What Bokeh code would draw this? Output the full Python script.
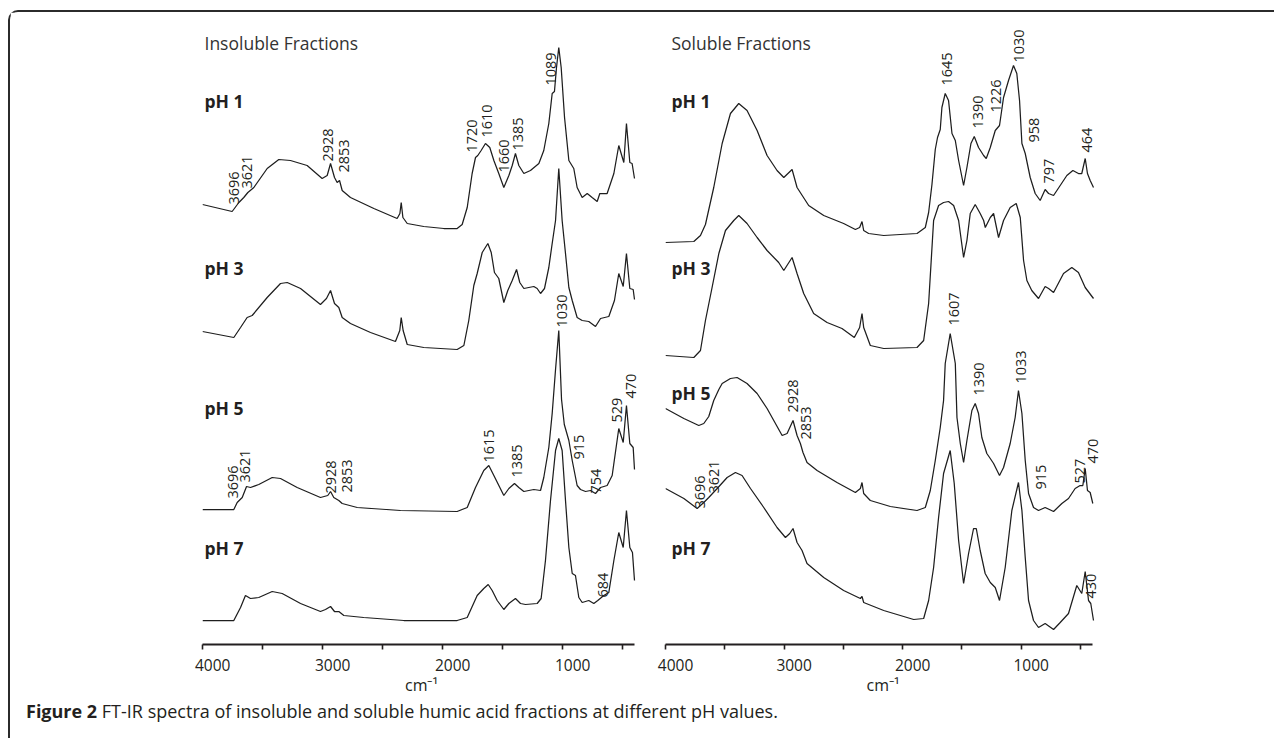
import numpy as np
from bokeh.plotting import figure
from bokeh.models import Range1d, LinearAxis, FixedTicker, Div
from bokeh.layouts import row, column
from bokeh.core.properties import value
from bokeh.embed import file_html
from bokeh.resources import INLINE

FONT = "Open Sans"
INK = "#231f20"

# ---------------- data: Insoluble fractions (wavenumber cm-1, stacked absorbance a.u.) -------------
ins_ph1_wn = [4000, 3753, 3697, 3656, 3622, 3572, 3461, 3364, 3267, 3128, 3003, 2961, 2933, 2900, 2878, 2858, 2836, 2767, 2572, 2378, 2355, 2344, 2330, 2294, 2156, 1989, 1878, 1836, 1794, 1753, 1725, 1706, 1678, 1642, 1606, 1572, 1531, 1489, 1447, 1419, 1392, 1364, 1322, 1267, 1197, 1156, 1114, 1086, 1067, 1050, 1031, 1011, 983, 947, 906, 878, 836, 794, 753, 711, 689, 628, 572, 531, 489, 467, 439, 420, 400]
ins_ph1_ab = [4.40, 4.33, 4.42, 4.47, 4.52, 4.57, 4.76, 4.85, 4.84, 4.79, 4.66, 4.69, 4.81, 4.67, 4.62, 4.64, 4.54, 4.47, 4.36, 4.26, 4.31, 4.42, 4.27, 4.21, 4.18, 4.16, 4.16, 4.20, 4.37, 4.71, 4.87, 4.89, 4.94, 5.01, 4.97, 4.84, 4.71, 4.57, 4.69, 4.79, 4.91, 4.79, 4.71, 4.74, 4.81, 4.94, 5.21, 5.51, 5.53, 5.77, 5.97, 5.77, 5.27, 4.84, 4.76, 4.57, 4.47, 4.51, 4.47, 4.43, 4.51, 4.51, 4.71, 4.99, 4.82, 5.21, 4.82, 4.81, 4.66]

ins_ph3_wn = [4000, 3739, 3683, 3628, 3586, 3461, 3350, 3294, 3183, 3017, 2967, 2933, 2900, 2864, 2836, 2767, 2600, 2392, 2356, 2344, 2328, 2294, 2156, 1878, 1822, 1781, 1739, 1711, 1669, 1622, 1594, 1567, 1531, 1489, 1456, 1419, 1383, 1356, 1322, 1281, 1239, 1211, 1183, 1150, 1114, 1086, 1058, 1031, 1003, 975, 947, 919, 878, 836, 781, 725, 683, 614, 567, 531, 494, 467, 439, 411, 400]
ins_ph3_ab = [3.13, 3.07, 3.17, 3.27, 3.29, 3.47, 3.61, 3.62, 3.56, 3.40, 3.46, 3.54, 3.41, 3.37, 3.27, 3.21, 3.12, 3.03, 3.14, 3.27, 3.14, 3.00, 2.97, 2.95, 2.99, 3.24, 3.59, 3.71, 3.92, 4.01, 3.92, 3.72, 3.66, 3.42, 3.54, 3.64, 3.75, 3.62, 3.56, 3.57, 3.58, 3.56, 3.51, 3.56, 3.77, 4.01, 4.24, 4.76, 4.24, 3.91, 3.57, 3.44, 3.27, 3.24, 3.23, 3.18, 3.26, 3.28, 3.44, 3.71, 3.58, 3.91, 3.56, 3.55, 3.45]

ins_ph5_wn = [4000, 3739, 3711, 3669, 3633, 3600, 3531, 3419, 3350, 3211, 3017, 2956, 2933, 2906, 2864, 2836, 2711, 2350, 1878, 1794, 1725, 1656, 1614, 1572, 1489, 1447, 1400, 1364, 1322, 1239, 1183, 1156, 1114, 1086, 1058, 1031, 1008, 985, 947, 919, 878, 850, 808, 767, 725, 683, 628, 586, 531, 494, 467, 439, 411, 400]
ins_ph5_ab = [1.35, 1.35, 1.42, 1.47, 1.58, 1.57, 1.60, 1.67, 1.66, 1.57, 1.47, 1.49, 1.53, 1.47, 1.44, 1.41, 1.37, 1.34, 1.33, 1.37, 1.57, 1.74, 1.79, 1.69, 1.49, 1.56, 1.61, 1.57, 1.53, 1.55, 1.54, 1.67, 1.97, 2.31, 2.75, 3.14, 2.45, 2.20, 2.04, 1.84, 1.59, 1.55, 1.53, 1.54, 1.51, 1.57, 1.59, 1.69, 2.16, 2.02, 2.39, 2.01, 1.97, 1.75]

ins_ph7_wn = [4000, 3739, 3683, 3642, 3600, 3531, 3419, 3336, 3183, 3017, 2975, 2933, 2900, 2864, 2822, 2656, 2322, 1878, 1794, 1711, 1656, 1619, 1586, 1544, 1489, 1447, 1392, 1350, 1308, 1211, 1178, 1142, 1100, 1058, 1031, 1003, 975, 947, 919, 892, 864, 836, 781, 739, 706, 656, 614, 572, 531, 494, 467, 439, 417, 400]
ins_ph7_ab = [0.24, 0.24, 0.37, 0.49, 0.46, 0.47, 0.53, 0.51, 0.41, 0.33, 0.35, 0.38, 0.33, 0.33, 0.29, 0.27, 0.24, 0.24, 0.27, 0.49, 0.56, 0.60, 0.54, 0.44, 0.35, 0.41, 0.46, 0.41, 0.40, 0.41, 0.46, 0.84, 1.44, 1.94, 2.06, 1.94, 1.44, 0.97, 0.71, 0.69, 0.47, 0.42, 0.44, 0.41, 0.44, 0.49, 0.52, 0.84, 1.12, 0.97, 1.34, 0.97, 0.92, 0.64]

# ---------------- data: Soluble fractions -------------
sol_ph1_wn = [4000, 3761, 3705, 3663, 3593, 3522, 3452, 3382, 3312, 3227, 3143, 3059, 3002, 2932, 2890, 2792, 2665, 2497, 2398, 2362, 2342, 2328, 2286, 2159, 1878, 1808, 1780, 1752, 1724, 1705, 1682, 1668, 1640, 1612, 1583, 1555, 1527, 1485, 1457, 1423, 1395, 1359, 1316, 1294, 1260, 1218, 1182, 1148, 1106, 1064, 1036, 1013, 993, 965, 923, 881, 839, 797, 768, 726, 670, 614, 563, 516, 488, 459, 440, 417, 389]
sol_ph1_ab = [4.02, 4.03, 4.09, 4.20, 4.57, 5.01, 5.31, 5.41, 5.34, 5.14, 4.89, 4.74, 4.67, 4.75, 4.57, 4.39, 4.29, 4.21, 4.15, 4.17, 4.23, 4.14, 4.11, 4.09, 4.11, 4.17, 4.32, 4.60, 4.95, 5.07, 5.15, 5.37, 5.51, 5.44, 5.11, 5.04, 4.84, 4.59, 4.77, 5.01, 5.08, 4.97, 4.89, 4.86, 4.97, 5.14, 5.19, 5.47, 5.64, 5.79, 5.71, 5.44, 5.01, 4.91, 4.67, 4.51, 4.44, 4.55, 4.51, 4.49, 4.59, 4.69, 4.74, 4.71, 4.71, 4.86, 4.71, 4.64, 4.57]

sol_ph3_wn = [4000, 3761, 3705, 3663, 3607, 3550, 3494, 3424, 3382, 3312, 3227, 3143, 3045, 3002, 2932, 2890, 2834, 2750, 2637, 2511, 2407, 2362, 2342, 2328, 2272, 2159, 1878, 1822, 1780, 1738, 1696, 1654, 1612, 1569, 1527, 1485, 1457, 1429, 1387, 1345, 1316, 1302, 1260, 1232, 1190, 1148, 1092, 1041, 1007, 979, 951, 910, 853, 797, 768, 726, 642, 572, 516, 459, 389]
sol_ph3_ab = [2.89, 2.87, 2.94, 3.24, 3.57, 3.91, 4.14, 4.24, 4.29, 4.21, 4.07, 3.94, 3.82, 3.74, 3.87, 3.71, 3.51, 3.31, 3.22, 3.16, 3.07, 3.17, 3.31, 3.17, 2.99, 2.96, 2.97, 3.04, 3.41, 4.24, 4.39, 4.42, 4.43, 4.39, 4.24, 3.87, 4.04, 4.31, 4.40, 4.31, 4.24, 4.17, 4.27, 4.31, 4.07, 4.24, 4.37, 4.41, 4.27, 3.84, 3.64, 3.54, 3.46, 3.58, 3.56, 3.52, 3.71, 3.77, 3.72, 3.57, 3.46]

sol_ph5_wn = [4000, 3845, 3719, 3677, 3635, 3593, 3550, 3522, 3452, 3396, 3312, 3227, 3143, 3016, 2974, 2924, 2890, 2862, 2840, 2806, 2721, 2553, 2398, 2356, 2342, 2328, 2272, 2103, 1878, 1808, 1766, 1724, 1682, 1654, 1640, 1598, 1555, 1541, 1513, 1485, 1457, 1415, 1387, 1359, 1331, 1289, 1260, 1232, 1182, 1148, 1092, 1050, 1022, 993, 965, 937, 895, 853, 797, 726, 656, 600, 544, 502, 479, 459, 440, 417, 395]
sol_ph5_ab = [2.36, 2.26, 2.19, 2.21, 2.28, 2.44, 2.55, 2.61, 2.66, 2.67, 2.61, 2.51, 2.36, 2.09, 2.11, 2.24, 2.09, 2.01, 1.92, 1.82, 1.74, 1.62, 1.52, 1.56, 1.62, 1.51, 1.44, 1.38, 1.34, 1.37, 1.54, 1.84, 2.17, 2.44, 2.81, 3.11, 2.81, 2.27, 2.01, 1.82, 2.04, 2.34, 2.41, 2.31, 2.07, 1.91, 1.86, 1.81, 1.69, 1.77, 2.01, 2.27, 2.54, 2.31, 1.84, 1.51, 1.37, 1.34, 1.37, 1.33, 1.41, 1.46, 1.56, 1.59, 1.59, 1.76, 1.54, 1.52, 1.41]

sol_ph7_wn = [4000, 3845, 3733, 3677, 3635, 3564, 3480, 3410, 3354, 3283, 3171, 3059, 2988, 2952, 2924, 2890, 2848, 2806, 2665, 2497, 2356, 2342, 2328, 2159, 1906, 1822, 1780, 1738, 1696, 1654, 1598, 1564, 1527, 1485, 1443, 1401, 1378, 1345, 1303, 1260, 1218, 1182, 1134, 1078, 1022, 993, 965, 937, 895, 853, 797, 726, 670, 600, 530, 488, 459, 431, 412, 389]
sol_ph7_ab = [1.56, 1.46, 1.36, 1.42, 1.47, 1.56, 1.67, 1.72, 1.69, 1.56, 1.37, 1.17, 1.07, 1.11, 1.16, 1.02, 0.94, 0.81, 0.67, 0.54, 0.46, 0.48, 0.42, 0.34, 0.25, 0.26, 0.44, 0.77, 1.27, 1.71, 1.94, 1.61, 1.04, 0.61, 0.91, 1.16, 1.16, 0.94, 0.71, 0.62, 0.57, 0.44, 0.77, 1.34, 1.62, 1.34, 0.87, 0.44, 0.24, 0.17, 0.21, 0.15, 0.22, 0.31, 0.59, 0.51, 0.73, 0.44, 0.41, 0.24]

# ---------------- peak annotations (wavenumber, absorbance where label starts, text) ------------
ins_peak_wn = [3739, 3628, 2958, 2817, 1753, 1628, 1489, 1372, 1100, 1003, 544, 433, 3748, 3642, 2933, 2800, 1614, 1378, 864, 725, 664]
ins_peak_ab = [4.40, 4.56, 4.83, 4.72, 4.92, 5.07, 4.72, 4.94, 5.59, 3.17, 2.22, 2.46, 1.46, 1.62, 1.51, 1.52, 1.82, 1.67, 1.85, 1.51, 0.47]
ins_peak_tx = ["3696", "3621", "2928", "2853", "1720", "1610", "1660", "1385", "1089", "1030", "529", "470", "3696", "3621", "2928", "2853", "1615", "1385", "915", "754", "684"]

sol_peak_wn = [1625, 1367, 1209, 1021, 895, 768, 444, 1563, 1358, 1001, 2923, 2811, 3711, 3593, 832, 507, 394, 411]
sol_peak_ab = [5.59, 5.16, 5.32, 5.82, 5.02, 4.61, 4.92, 3.19, 2.49, 2.61, 2.32, 2.05, 1.36, 1.51, 1.55, 1.61, 1.81, 0.46]
sol_peak_tx = ["1645", "1390", "1226", "1030", "958", "797", "464", "1607", "1390", "1033", "2928", "2853", "3696", "3621", "915", "527", "470", "430"]

ph_names = ["pH 1", "pH 3", "pH 5", "pH 7"]
ins_ph_ab = [5.44, 3.77, 2.37, 0.97]
sol_ph_ab = [5.44, 3.77, 2.52, 0.97]

tick_values = [4000, 3500, 3000, 2500, 2000, 1500, 1000, 500]
tick_labels = {4000: "4000", 3000: "3000", 2000: "2000", 1000: "1000"}
label_shift = 85  # tick labels sit slightly right of their ticks in the original

H = 686


def make_panel(curves, pk_wn, pk_ab, pk_tx, ph_ab, title, x_end, frame_w, b_left, b_right, ph_offset):
    p = figure(width=b_left + frame_w + b_right, height=H,
               x_range=Range1d(4000, x_end), y_range=Range1d(0, 6.29),
               x_axis_type=None, y_axis_type=None,
               output_backend="svg", toolbar_location=None,
               min_border_left=b_left, min_border_right=b_right,
               min_border_top=3, min_border_bottom=54)
    p.outline_line_color = None
    p.grid.visible = False
    p.background_fill_color = "white"
    p.border_fill_color = "white"

    for wn, ab in curves:
        p.line(wn, ab, line_color="#1e1e1e", line_width=1.25)

    p.text(x=pk_wn, y=pk_ab, text=pk_tx, angle=np.pi / 2,
           text_align="left", text_baseline="middle",
           text_font=value(FONT), text_font_size="14.5px", text_color=INK)

    p.text(x=[4000] * 4, y=ph_ab, text=ph_names, x_offset=ph_offset,
           text_align="left", text_baseline="middle",
           text_font=value(FONT), text_font_size="17.5px", text_font_style="bold",
           text_color=INK)
    p.text(x=[4000], y=[6.02], text=[title], x_offset=ph_offset,
           text_align="left", text_baseline="middle",
           text_font=value(FONT), text_font_size="17.5px", text_color="#333333")

    ax = LinearAxis(ticker=FixedTicker(ticks=tick_values), bounds=(400, 4000))
    ax.major_label_overrides = {t: "" for t in tick_values}
    ax.major_label_standoff = 0
    ax.axis_line_width = 2.2
    ax.axis_line_color = INK
    ax.major_tick_line_width = 1.6
    ax.major_tick_line_color = INK
    ax.major_tick_out = 5
    ax.major_tick_in = 0
    ax.minor_tick_line_color = None
    p.add_layout(ax, "below")

    lab_ticks = [t - label_shift for t in tick_labels]
    ax2 = LinearAxis(ticker=FixedTicker(ticks=lab_ticks))
    ax2.major_label_overrides = {t - label_shift: s for t, s in tick_labels.items()}
    ax2.axis_line_color = None
    ax2.major_tick_line_color = None
    ax2.minor_tick_line_color = None
    ax2.major_label_standoff = 3
    ax2.major_label_text_font = FONT
    ax2.major_label_text_font_size = "15.5px"
    ax2.major_label_text_color = INK
    ax2.axis_label = "cm\u207b\u00b9"
    ax2.axis_label_text_font = FONT
    ax2.axis_label_text_font_style = "normal"
    ax2.axis_label_text_font_size = "16px"
    ax2.axis_label_text_color = INK
    ax2.axis_label_standoff = 0
    p.add_layout(ax2, "below")
    return p


left = make_panel([(ins_ph1_wn, ins_ph1_ab), (ins_ph3_wn, ins_ph3_ab),
                   (ins_ph5_wn, ins_ph5_ab), (ins_ph7_wn, ins_ph7_ab)],
                  ins_peak_wn, ins_peak_ab, ins_peak_tx, ins_ph_ab,
                  "Insoluble Fractions", 350, 438, 192, 10, 2)
right = make_panel([(sol_ph1_wn, sol_ph1_ab), (sol_ph3_wn, sol_ph3_ab),
                    (sol_ph5_wn, sol_ph5_ab), (sol_ph7_wn, sol_ph7_ab)],
                   sol_peak_wn, sol_peak_ab, sol_peak_tx, sol_ph_ab,
                   "Soluble Fractions", 330, 435, 15, 174, 6)

caption = Div(text="<b>Figure 2</b> FT-IR spectra of insoluble and soluble humic acid fractions at different pH values.",
              width=1200, height=30,
              styles={"font-family": "'Open Sans'", "font-size": "18px", "color": INK,
                      "margin-left": "16px", "line-height": "16px"})

layout = column(row(left, right), caption,
                styles={"border-left": "2px solid #2b2b2b", "border-top": "2px solid #2b2b2b",
                        "border-top-left-radius": "10px", "background": "white",
                        "margin-left": "8px", "margin-top": "10px"})

open("out.html", "w").write(file_html(layout, INLINE))
